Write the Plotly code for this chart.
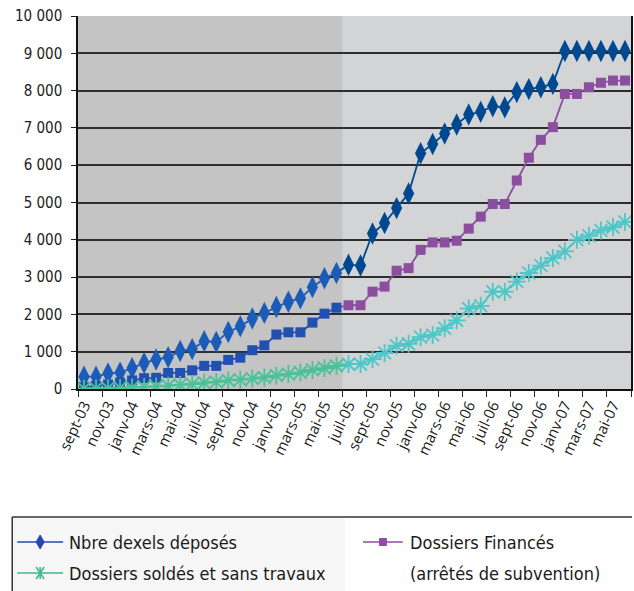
import plotly.graph_objects as go

# Monthly periods, sept-03 .. juin-07 (46 months)
months = ["sept-03", "oct-03", "nov-03", "déc-03", "janv-04", "févr-04", "mars-04", "avr-04",
          "mai-04", "juin-04", "juil-04", "août-04", "sept-04", "oct-04", "nov-04", "déc-04",
          "janv-05", "févr-05", "mars-05", "avr-05", "mai-05", "juin-05", "juil-05", "août-05",
          "sept-05", "oct-05", "nov-05", "déc-05", "janv-06", "févr-06", "mars-06", "avr-06",
          "mai-06", "juin-06", "juil-06", "août-06", "sept-06", "oct-06", "nov-06", "déc-06",
          "janv-07", "févr-07", "mars-07", "avr-07", "mai-07", "juin-07"]

deposes = [330, 330, 420, 440, 560, 700, 790, 850, 1020, 1070, 1280, 1260,
           1530, 1680, 1890, 2040, 2200, 2340, 2430, 2730, 2970, 3110,
           3330, 3310, 4170, 4450, 4850, 5240, 6320, 6570, 6850, 7090, 7360, 7430,
           7580, 7550, 7960, 8040, 8090, 8180, 9060, 9060, 9060, 9060, 9060, 9060]

finances = [50, 80, 120, 170, 230, 290, 300, 430, 430, 500, 620, 620,
            780, 840, 1040, 1170, 1460, 1520, 1520, 1780, 2020, 2180,
            2245, 2245, 2610, 2745, 3170, 3240, 3730, 3930, 3930, 3975, 4300, 4620,
            4960, 4960, 5590, 6200, 6680, 7020, 7910, 7910, 8090, 8210, 8270, 8270]

soldes = [10, 15, 20, 30, 40, 55, 70, 90, 110, 130, 170, 190,
          230, 250, 280, 310, 360, 400, 440, 510, 560, 620,
          667, 667, 800, 965, 1160, 1210, 1390, 1450, 1630, 1840, 2155, 2230,
          2610, 2610, 2880, 3110, 3310, 3510, 3690, 4000, 4110, 4250, 4340, 4480]

y_ticks = list(range(0, 10001, 1000))
y_labels = ["0" if v == 0 else f"{v // 1000} 000" for v in y_ticks]

SPLIT = 22  # first month of the second period (juil-05)

# figure geometry (px) used to place the hand-drawn legend
W, H = 634, 591
ML, MR, MT, MB = 78, 1, 16, 202
PW, PH = W - ML - MR, H - MT - MB


def px(x):
    return (x - ML) / PW


def py(y):
    return (H - MB - y) / PH


idx = list(range(len(months)))
fig = go.Figure()

left_bg, right_bg = "#c4c4c4", "#d3d4d6"
fig.add_shape(type="rect", xref="x", yref="paper", x0=-0.5, x1=SPLIT - 0.5, y0=0, y1=1,
              fillcolor=left_bg, line_width=0, layer="below")

# values, symbol, marker size, colours (1st / 2nd period), line width
series = [
    (deposes, "diamond-tall", 16, "#1b5cb8", "#004990", 1.8),
    (finances, "square", 10, "#2150b0", "#8c4e9f", 1.8),
    (soldes, "asterisk-open", 15, "#47c398", "#4cc7c8", 1.8),
]


def marker(sym, size, color):
    mk = dict(symbol=sym, size=size, color=color)
    if "open" in sym:
        mk["line"] = dict(color=color, width=1.8)
    return mk


# segment joining the two periods
for vals, sym, size, c_left, c_right, lw in series:
    fig.add_trace(go.Scatter(x=idx[SPLIT - 1:SPLIT + 1], y=vals[SPLIT - 1:SPLIT + 1], mode="lines",
                             line=dict(color=c_right, width=lw), showlegend=False, hoverinfo="skip"))

# second period
for vals, sym, size, c_left, c_right, lw in series:
    fig.add_trace(go.Scatter(x=idx[SPLIT:], y=vals[SPLIT:], mode="lines+markers",
                             line=dict(color=c_right, width=lw), marker=marker(sym, size, c_right),
                             showlegend=False, hoverinfo="skip"))

# first period
for vals, sym, size, c_left, c_right, lw in series:
    fig.add_trace(go.Scatter(x=idx[:SPLIT], y=vals[:SPLIT], mode="lines+markers",
                             line=dict(color=c_left, width=lw), marker=marker(sym, size, c_left),
                             showlegend=False, hoverinfo="skip"))

# ---- legend (drawn by hand: two columns, wrapped label) ----
shapes = []
shapes.append(dict(type="rect", xref="paper", yref="paper", x0=px(12), x1=px(346),
                   y0=py(600), y1=py(517), fillcolor="#f6f6f6", line_width=0, layer="above"))
shapes.append(dict(type="line", xref="paper", yref="paper", x0=px(12), x1=px(634),
                   y0=py(517), y1=py(517), line=dict(color="#333333", width=1.5)))
shapes.append(dict(type="line", xref="paper", yref="paper", x0=px(12), x1=px(12),
                   y0=py(517), y1=py(600), line=dict(color="#333333", width=1.5)))


def legend_sample(x0, x1, yc, color, kind):
    out = [dict(type="line", xref="paper", yref="paper", x0=px(x0), x1=px(x1),
                y0=py(yc), y1=py(yc), line=dict(color=color, width=1.6))]
    xc = (x0 + x1) / 2
    if kind == "diamond":
        path = (f"M {px(xc)},{py(yc - 7)} L {px(xc + 4)},{py(yc)} "
                f"L {px(xc)},{py(yc + 7)} L {px(xc - 4)},{py(yc)} Z")
        out.append(dict(type="path", xref="paper", yref="paper", path=path,
                        fillcolor=color, line=dict(color=color, width=1)))
    elif kind == "square":
        out.append(dict(type="rect", xref="paper", yref="paper", x0=px(xc - 3.5), x1=px(xc + 3.5),
                        y0=py(yc + 3.5), y1=py(yc - 3.5), fillcolor=color,
                        line=dict(color=color, width=1)))
    else:
        for dx in (-4, 4):
            out.append(dict(type="line", xref="paper", yref="paper", x0=px(xc - dx), x1=px(xc + dx),
                            y0=py(yc - 6), y1=py(yc + 6), line=dict(color=color, width=1.6)))
        out.append(dict(type="line", xref="paper", yref="paper", x0=px(xc), x1=px(xc),
                        y0=py(yc - 6), y1=py(yc + 6), line=dict(color=color, width=1.6)))
    return out


shapes += legend_sample(17, 63, 542, "#2448b0", "diamond")
shapes += legend_sample(17, 63, 573, "#3dbb8a", "star")
shapes += legend_sample(364, 404, 542, "#8e4fa0", "square")

leg_font = dict(family="DejaVu Sans Condensed, Arial", size=18, color="#1a1a1a")
annotations = [
    dict(text="Nbre dexels déposés", x=px(67), y=py(542)),
    dict(text="Dossiers soldés et sans travaux", x=px(67), y=py(573)),
    dict(text="Dossiers Financés", x=px(409), y=py(542)),
    dict(text="(arrêtés de subvention)", x=px(409), y=py(573)),
]
for a in annotations:
    a.update(xref="paper", yref="paper", xanchor="left", yanchor="middle", showarrow=False,
             font=leg_font)

tick_font = dict(family="DejaVu Sans Condensed, Arial", size=15, color="#222222")

fig.update_layout(
    width=W, height=H,
    margin=dict(l=ML, r=MR, t=MT, b=MB, pad=0),
    paper_bgcolor="white",
    plot_bgcolor=right_bg,
    shapes=fig.layout.shapes + tuple(shapes),
    annotations=annotations,
    xaxis=dict(
        range=[-0.5, len(months) - 0.5],
        tickvals=idx[::2], ticktext=months[::2], tickangle=-65,
        ticks="", showgrid=False, zeroline=False,
        showline=True, linecolor="#111111", linewidth=1.5,
        tickfont=dict(family="Open Sans, Noto Sans", size=15, color="#222222"),
        minor=dict(tickvals=[i - 0.5 for i in range(0, len(months) + 1, 2)],
                   ticks="outside", ticklen=6, tickwidth=1.2, tickcolor="#222222", showgrid=False),
    ),
    yaxis=dict(
        range=[0, 10000], tickvals=y_ticks, ticktext=y_labels,
        ticks="outside", ticklen=5, tickcolor="#222222",
        showgrid=True, gridcolor="#2e2e2e", gridwidth=2,
        zeroline=False, showline=True, linecolor="#111111", linewidth=1.5, mirror=True,
        tickfont=tick_font, ticklabelstandoff=6,
    ),
)

fig.write_html("out.html")
